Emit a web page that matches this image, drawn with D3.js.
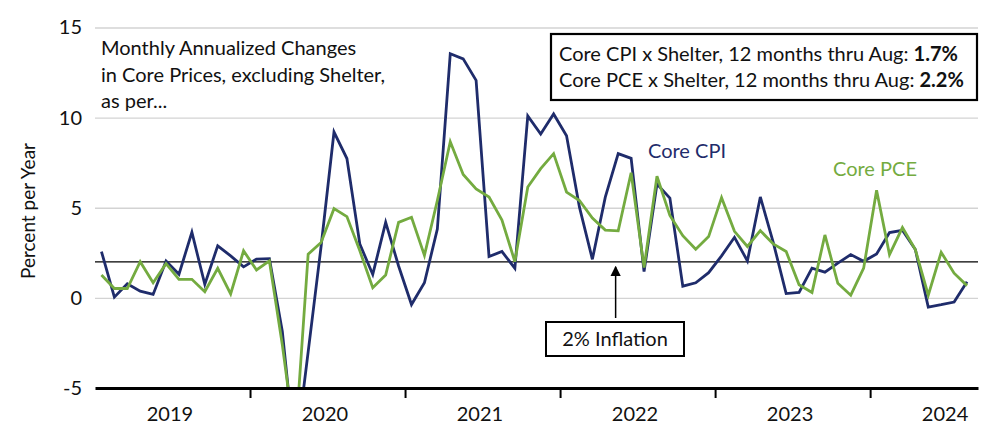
<!DOCTYPE html>
<html>
<head>
<meta charset="utf-8">
<script src="https://cdn.jsdelivr.net/npm/d3@7"></script>
<style>
  body { margin: 0; background: #fff; }
  text { font-family: Lato, "Open Sans", sans-serif; }
</style>
</head>
<body>
<svg id="chart"></svg>
<script>
// Jan 2019 .. Aug 2024, one value per month
const startYear = 2019;
const years = [2019, 2020, 2021, 2022, 2023, 2024];
const yTicks = [-5, 0, 5, 10, 15];

const coreCPI = [
  2.57, 0.04, 0.78, 0.37, 0.19, 2.05, 1.31, 3.64, 0.75, 2.89, 2.33, 1.72,
  2.15, 2.18, -1.86, -8.8, -3.0, 2.85, 9.2, 7.73, 2.98, 1.30, 4.19, 1.77,
  -0.37, 0.84, 3.82, 13.54, 13.26, 12.07, 2.29, 2.57, 1.64, 10.09, 9.09, 10.2,
  8.99, 5.03, 2.14, 5.59, 8.0, 7.74, 1.46, 6.31, 5.54, 0.65, 0.84, 1.4,
  2.33, 3.36, 2.05, 5.6, 3.08, 0.24, 0.3, 1.65, 1.43, 1.93, 2.4, 2.03,
  2.44, 3.62, 3.75, 2.68, -0.51, -0.38, -0.23, 0.9
];
const corePCE = [
  1.27, 0.52, 0.52, 2.01, 0.84, 1.9, 1.03, 1.03, 0.34, 1.64, 0.22, 2.61,
  1.55, 2.05, -2.6, -8.0, 2.42, 3.07, 4.95, 4.51, 2.61, 0.56, 1.27, 4.19,
  4.47, 2.36, 5.4, 8.66, 6.85, 6.05, 5.59, 4.32, 2.01, 6.15, 7.17, 8.0,
  5.87, 5.4, 4.43, 3.76, 3.72, 6.94, 1.68, 6.75, 4.57, 3.45, 2.7, 3.4,
  5.56, 3.69, 2.85, 3.73, 2.99, 2.57, 0.73, 0.3, 3.49, 0.81, 0.15, 1.65,
  5.97, 2.4, 3.9, 2.68, 0.15, 2.53, 1.37, 0.68
];
const inflationTarget = 2;

const W = 1000, H = 440;
const mLeft = 95, mRight = 978, mTop = 27.5, mBottom = 388;
const navy = "#1f2c6b", green = "#74ab40";

const svg = d3.select("#chart").attr("width", W).attr("height", H);

// month index scale, points sit mid-month
const x = d3.scaleLinear().domain([0, 68.35]).range([mLeft, mRight]);
const y = d3.scaleLinear().domain([-5, 15]).range([mBottom, mTop]);

// gridlines + tick labels
const yAxis = svg.append("g")
  .attr("transform", "translate(" + mLeft + ",0)")
  .call(d3.axisLeft(y)
    .tickValues(yTicks)
    .tickSize(-(mRight - mLeft))
    .tickPadding(13)
    .tickFormat(d => String(d)));
yAxis.select(".domain").remove();
yAxis.selectAll(".tick line")
  .attr("stroke", "#d3d3d3")
  .attr("stroke-width", 1.3)
  .filter(d => d === -5).remove();
yAxis.selectAll(".tick text")
  .attr("fill", "#111")
  .style("font-size", "20px");

svg.append("text")
  .attr("transform", "translate(35," + 211 + ") rotate(-90)")
  .attr("text-anchor", "middle")
  .style("font-size", "19px")
  .attr("fill", "#111")
  .text("Percent per Year");

// 2% line
svg.append("line")
  .attr("x1", mLeft).attr("x2", mRight)
  .attr("y1", y(inflationTarget)).attr("y2", y(inflationTarget))
  .attr("stroke", "#000").attr("stroke-width", 1.2);

// lines
svg.append("clipPath").attr("id", "plot")
  .append("rect")
  .attr("x", mLeft).attr("y", mTop - 5)
  .attr("width", mRight - mLeft).attr("height", mBottom - mTop + 5);

const line = d3.line()
  .x((d, i) => x(i + 0.5))
  .y(d => y(d));

const lines = svg.append("g").attr("clip-path", "url(#plot)");
lines.append("path")
  .datum(coreCPI)
  .attr("fill", "none")
  .attr("stroke", navy)
  .attr("stroke-width", 2.8)
  .attr("stroke-linejoin", "miter")
  .attr("d", line);
lines.append("path")
  .datum(corePCE)
  .attr("fill", "none")
  .attr("stroke", green)
  .attr("stroke-width", 2.8)
  .attr("stroke-linejoin", "miter")
  .attr("d", line);

// bottom axis with year boundary ticks
const xAxis = svg.append("g")
  .attr("transform", "translate(0," + mBottom + ")")
  .call(d3.axisBottom(x)
    .tickValues(years.slice(1).map(yr => (yr - startYear) * 12))
    .tickSizeInner(10)
    .tickSizeOuter(0)
    .tickFormat(""));
xAxis.select(".domain").attr("stroke", "#000").attr("stroke-width", 3);
xAxis.selectAll(".tick line").attr("stroke", "#000").attr("stroke-width", 2);

svg.append("g").selectAll("text")
  .data(years)
  .join("text")
  .attr("x", yr => x((yr - startYear) * 12 + 5.8))
  .attr("y", 421)
  .attr("text-anchor", "middle")
  .style("font-size", "20px")
  .attr("fill", "#111")
  .text(yr => yr);

// subtitle
const sub = svg.append("text")
  .attr("x", 101)
  .style("font-size", "20px")
  .attr("fill", "#111");
["Monthly Annualized Changes", "in Core Prices, excluding Shelter,", "as per..."]
  .forEach((t, i) => sub.append("tspan").attr("x", 101).attr("y", 55 + i * 26.5).text(t));

// series labels
svg.append("text").attr("x", 648).attr("y", 158)
  .style("font-size", "20px").attr("fill", navy).text("Core CPI");
svg.append("text").attr("x", 833).attr("y", 176)
  .style("font-size", "20px").attr("fill", green).text("Core PCE");

// summary box
svg.append("rect")
  .attr("x", 551).attr("y", 34)
  .attr("width", 426).attr("height", 66)
  .attr("fill", "#fff").attr("stroke", "#000").attr("stroke-width", 2.2);
const summary = [
  ["Core CPI x Shelter, 12 months thru Aug: ", "1.7%"],
  ["Core PCE x Shelter, 12 months thru Aug: ", "2.2%"]
];
summary.forEach((s, i) => {
  const t = svg.append("text")
    .attr("x", 559).attr("y", 61 + i * 26)
    .style("font-size", "20px").attr("fill", "#111");
  t.append("tspan").text(s[0]);
  t.append("tspan").style("font-weight", "bold").text(s[1]);
});

// 2% inflation callout
svg.append("defs").append("marker")
  .attr("id", "arrow")
  .attr("viewBox", "0 0 10 10")
  .attr("refX", 9).attr("refY", 5)
  .attr("markerWidth", 7).attr("markerHeight", 8)
  .attr("orient", "auto")
  .append("path").attr("d", "M0,0 L10,5 L0,10 z").attr("fill", "#000");

const arrowX = x(40.3);
svg.append("line")
  .attr("x1", arrowX).attr("x2", arrowX)
  .attr("y1", 318).attr("y2", y(inflationTarget) + 5)
  .attr("stroke", "#000").attr("stroke-width", 1.5)
  .attr("marker-end", "url(#arrow)");

svg.append("rect")
  .attr("x", 546).attr("y", 322)
  .attr("width", 138).attr("height", 34)
  .attr("fill", "#fff").attr("stroke", "#000").attr("stroke-width", 2);
svg.append("text")
  .attr("x", 615).attr("y", 346)
  .attr("text-anchor", "middle")
  .style("font-size", "20px").attr("fill", "#111")
  .text("2% Inflation");
</script>
</body>
</html>
